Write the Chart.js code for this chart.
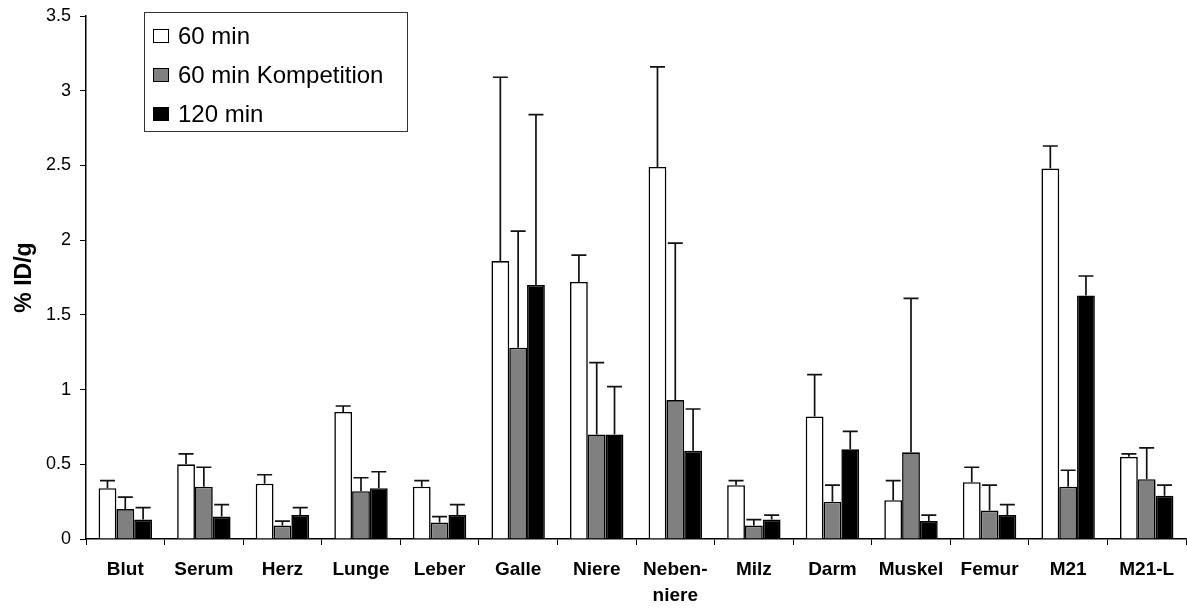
<!DOCTYPE html>
<html>
<head>
<meta charset="utf-8">
<script src="https://cdn.jsdelivr.net/npm/chart.js@4"></script>
<style>
  html, body { margin: 0; padding: 0; background: #fff; }
  #wrap { width: 1187px; height: 608px; }
</style>
</head>
<body>
<div id="wrap"><canvas id="organChart" width="1187" height="608"></canvas></div>
<script>
// Organe (x-Achse)
const organe = ['Blut', 'Serum', 'Herz', 'Lunge', 'Leber', 'Galle', 'Niere', ['Neben-', 'niere'],
    'Milz', 'Darm', 'Muskel', 'Femur', 'M21', 'M21-L'];

// Mittelwerte % ID/g
const wert60 = [0.34, 0.50, 0.37, 0.85, 0.35, 1.86, 1.72, 2.49, 0.36, 0.82, 0.26, 0.38, 2.48, 0.55];
const wert60Komp = [0.20, 0.35, 0.09, 0.32, 0.11, 1.28, 0.70, 0.93, 0.09, 0.25, 0.58, 0.19, 0.35, 0.40];
const wert120 = [0.13, 0.15, 0.16, 0.34, 0.16, 1.70, 0.70, 0.59, 0.13, 0.60, 0.12, 0.16, 1.63, 0.29];

// Standardabweichung (nur nach oben gezeichnet)
const sd60 = [0.05, 0.07, 0.06, 0.04, 0.04, 1.23, 0.18, 0.67, 0.03, 0.28, 0.13, 0.10, 0.15, 0.02];
const sd60Komp = [0.08, 0.13, 0.03, 0.09, 0.04, 0.78, 0.48, 1.05, 0.04, 0.11, 1.03, 0.17, 0.11, 0.21];
const sd120 = [0.08, 0.08, 0.05, 0.11, 0.07, 1.14, 0.32, 0.28, 0.03, 0.12, 0.04, 0.07, 0.13, 0.07];

const serien = ['60 min', '60 min Kompetition', '120 min'];
const yTicks = [0, 0.5, 1, 1.5, 2, 2.5, 3, 3.5];

const fontFamily = "'Liberation Sans', Arial, sans-serif";

// Fehlerbalken nach oben
const errorBarsPlugin = {
    id: 'errorBars',
    afterDatasetsDraw(chart) {
        const ctx = chart.ctx;
        const yScale = chart.scales.y;
        ctx.save();
        ctx.strokeStyle = '#111';
        ctx.lineWidth = 1.7;
        chart.data.datasets.forEach((ds, i) => {
            const meta = chart.getDatasetMeta(i);
            meta.data.forEach((bar, j) => {
                const top = yScale.getPixelForValue(ds.data[j] + ds.sd[j]);
                const base = yScale.getPixelForValue(ds.data[j]);
                ctx.beginPath();
                ctx.moveTo(bar.x, base);
                ctx.lineTo(bar.x, top);
                ctx.moveTo(bar.x - 7.5, top);
                ctx.lineTo(bar.x + 7.5, top);
                ctx.stroke();
            });
        });
        ctx.restore();
    }
};

// Legende im Kasten oben links
const legendBoxPlugin = {
    id: 'legendBox',
    afterDraw(chart) {
        const ctx = chart.ctx;
        ctx.save();
        ctx.fillStyle = '#fff';
        ctx.fillRect(144, 12, 264, 120);
        ctx.strokeStyle = '#333';
        ctx.lineWidth = 1;
        ctx.strokeRect(144.5, 12.5, 263, 119);
        ctx.font = '24px ' + fontFamily;
        ctx.textBaseline = 'middle';
        chart.data.datasets.forEach((ds, i) => {
            const y = 36 + i * 39;
            ctx.fillStyle = ds.backgroundColor;
            ctx.fillRect(153.5, y - 6.5, 15, 13);
            ctx.strokeStyle = '#000';
            ctx.lineWidth = 1;
            ctx.strokeRect(153.5, y - 6.5, 15, 13);
            ctx.fillStyle = '#000';
            ctx.fillText(ds.label, 178, y + 1);
        });
        ctx.restore();
    }
};

const ctx = document.getElementById('organChart').getContext('2d');
const organChart = new Chart(ctx, {
    type: 'bar',
    data: {
        labels: organe,
        datasets: [
            { label: serien[0], data: wert60, sd: sd60, backgroundColor: '#ffffff' },
            { label: serien[1], data: wert60Komp, sd: sd60Komp, backgroundColor: '#808080' },
            { label: serien[2], data: wert120, sd: sd120, backgroundColor: '#000000' }
        ].map(d => Object.assign(d, {
            borderColor: '#000',
            borderWidth: 1.6,
            categoryPercentage: 0.68,
            barPercentage: 1
        }))
    },
    options: {
        responsive: false,
        animation: false,
        layout: { padding: { top: 16, right: 1, left: 0, bottom: 0 } },
        plugins: {
            legend: { display: false },
            tooltip: { enabled: false }
        },
        scales: {
            x: {
                grid: { drawOnChartArea: false, drawTicks: true, tickLength: 6, color: '#000', lineWidth: 1 },
                border: { display: true, color: '#000', width: 1.5 },
                ticks: {
                    color: '#000',
                    font: { family: fontFamily, size: 19, weight: 'bold', lineHeight: 1.4 },
                    padding: 11,
                    maxRotation: 0,
                    autoSkip: false
                },
                afterFit(scale) { scale.height = 69; }
            },
            y: {
                min: 0,
                max: 3.5,
                afterBuildTicks(scale) { scale.ticks = yTicks.map(v => ({ value: v })); },
                grid: { drawOnChartArea: false, drawTicks: true, tickLength: 6, color: '#000', lineWidth: 1 },
                border: { display: true, color: '#000', width: 1.5 },
                ticks: {
                    color: '#000',
                    font: { family: fontFamily, size: 18 },
                    padding: 9,
                    callback: v => String(v)
                },
                title: {
                    display: true,
                    text: '% ID/g',
                    color: '#000',
                    font: { family: fontFamily, size: 23, weight: 'bold' },
                    padding: { top: 11, bottom: 0 }
                },
                afterFit(scale) {
                    scale.width = 86;
                    scale.paddingTop = 0;
                    scale.paddingBottom = 0;
                }
            }
        }
    },
    plugins: [errorBarsPlugin, legendBoxPlugin]
});
</script>
</body>
</html>
